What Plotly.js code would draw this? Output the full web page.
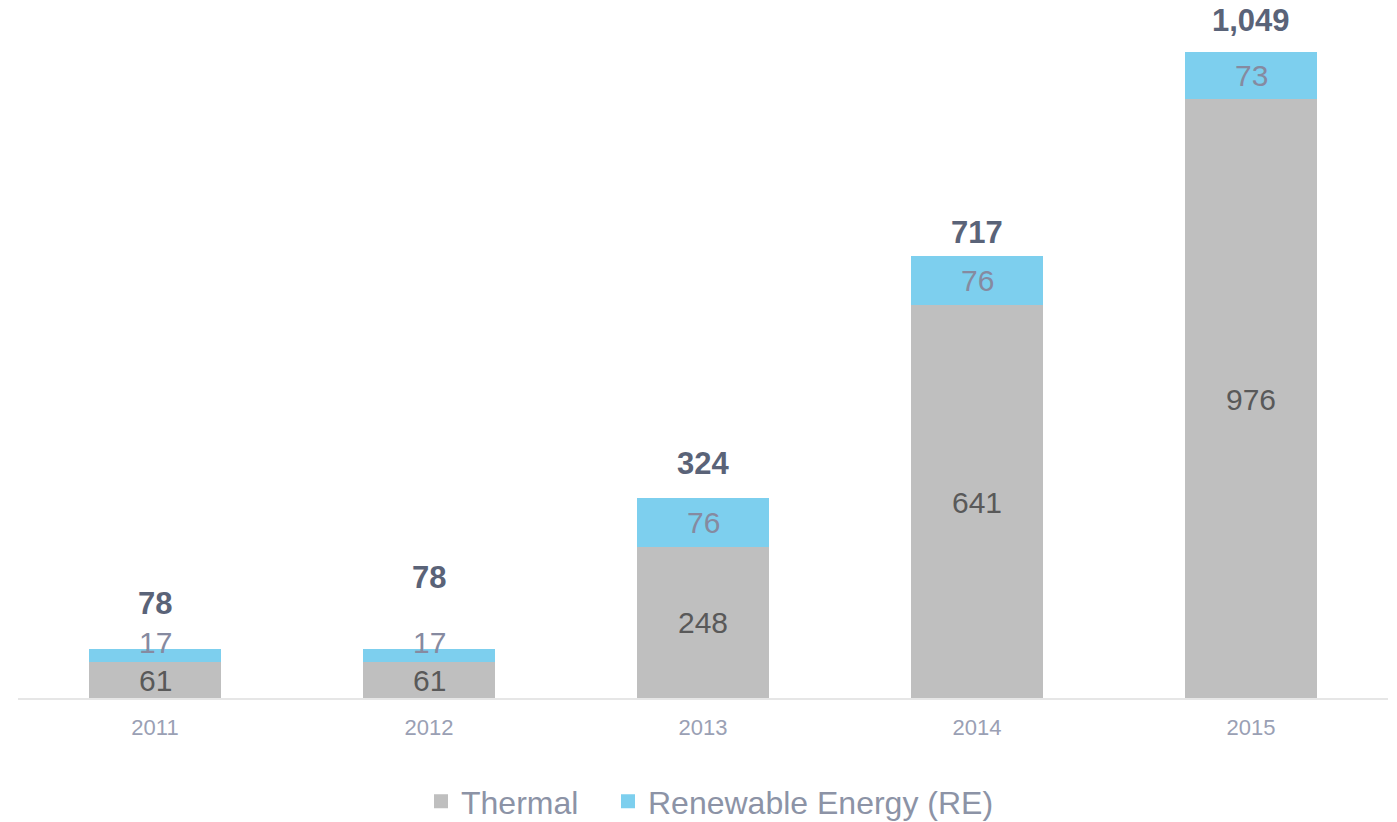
<!DOCTYPE html>
<html>
<head>
<meta charset="utf-8">
<script src="https://cdn.plot.ly/plotly-3.0.1.min.js"></script>
<style>html,body{margin:0;padding:0;background:#fff;}#chart{width:1397px;height:822px;}</style>
</head>
<body>
<div id="chart"></div>
<script>
const years = ['2011', '2012', '2013', '2014', '2015'];
const thermal = [61, 61, 248, 641, 976];
const renewable = [17, 17, 76, 76, 73];
const totals = [78, 78, 324, 717, 1049];

// label offsets (px) - styling only
const totalShift = [47, 73, 35, 25, 33];
const reShift = [13, 13, 0, 0, 0];

const FONT = 'Liberation Sans, Arial, sans-serif';
const COL_TH = '#bfbfbf', COL_RE = '#7dcfee';

const traces = [
  {type: 'bar', name: 'Thermal', x: years, y: thermal, legendwidth: 142,
    marker: {color: COL_TH, line: {color: COL_TH, width: 2}}, width: 0.478, hoverinfo: 'none'},
  {type: 'bar', name: 'Renewable Energy (RE)', x: years, y: renewable, legendwidth: 340,
    marker: {color: COL_RE, line: {color: COL_RE, width: 2}}, width: 0.478, hoverinfo: 'none'}
];

const annotations = [];
years.forEach((yr, i) => {
  annotations.push({x: i, y: thermal[i] / 2, text: String(thermal[i]), showarrow: false,
    font: {family: FONT, size: 30, color: '#595959'}, yshift: -1});
  annotations.push({x: i, y: thermal[i] + renewable[i] / 2, text: String(renewable[i]), showarrow: false,
    font: {family: FONT, size: 30, color: '#868aa0'}, yshift: reShift[i]});
  annotations.push({x: i, y: totals[i], text: '<b>' + totals[i].toLocaleString('en-US') + '</b>', showarrow: false,
    font: {family: FONT, size: 31, color: '#5a6378'}, yanchor: 'middle', yshift: totalShift[i]});
});

const layout = {
  width: 1397, height: 822,
  margin: {l: 18, r: 9, t: 22, b: 124, autoexpand: false},
  barmode: 'stack',
  paper_bgcolor: '#fff', plot_bgcolor: '#fff',
  showlegend: true,
  legend: {orientation: 'h', traceorder: 'normal', x: (437 - 18 - 16) / 1370, xanchor: 'left', y: -0.153, yanchor: 'middle',
    font: {family: FONT, size: 32, color: '#8c93a6'}, itemwidth: 30, tracegroupgap: 0},
  xaxis: {type: 'category', range: [-0.5, 4.5], showline: true, linecolor: '#e6e6e6', linewidth: 2, ticks: 'outside', ticklen: 9, tickcolor: 'rgba(0,0,0,0)',
    tickfont: {family: FONT, size: 22, color: '#9aa0b4'}, showgrid: false, zeroline: false},
  yaxis: {range: [0, 1100], visible: false, showgrid: false, zeroline: false},
  annotations: annotations
};

Plotly.newPlot('chart', traces, layout, {displayModeBar: false, staticPlot: true});
</script>
</body>
</html>
